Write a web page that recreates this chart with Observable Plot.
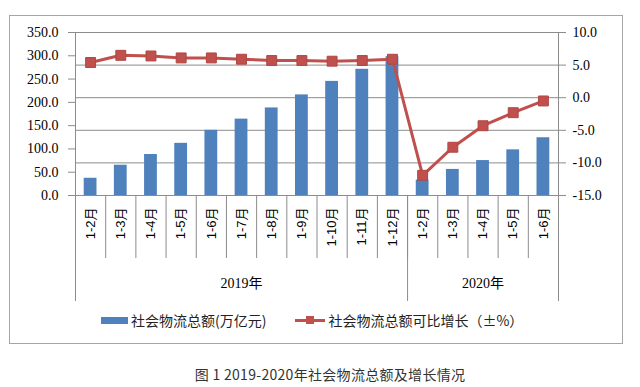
<!DOCTYPE html>
<html>
<head>
<meta charset="utf-8">
<script src="https://cdn.jsdelivr.net/npm/d3@7"></script>
<script src="https://cdn.jsdelivr.net/npm/@observablehq/plot@0.6"></script>
<style>
  html, body { margin: 0; padding: 0; background: #fff; }
  #wrap { position: relative; width: 640px; height: 387px; overflow: hidden; }
  #frame { position: absolute; left: 9px; top: 15px; width: 614px; height: 329px; box-sizing: border-box; border: 1px solid #a6a6a6; }
  #chart svg { position: absolute; left: 0; top: 0; }
  #legend { position: absolute; left: 101px; top: 310px; height: 20px; display: flex; align-items: center;
            font-family: "Noto Sans CJK SC", sans-serif; font-size: 14px; color: #222; white-space: nowrap; }
  .item { display: flex; align-items: center; }
  .sw-bar { width: 27px; height: 7px; background: #4f81bd; margin-right: 3px; }
  .sw-line { position: relative; width: 30px; height: 10px; margin-right: 3px; }
  .sw-line .ln { position: absolute; left: 0; right: 0; top: 4px; height: 3px; background: #c0504d; }
  .sw-line .mk { position: absolute; left: 11px; top: 1px; width: 8px; height: 8px; background: #c0504d; }
  #caption { position: absolute; left: 0; width: 660px; top: 364px; text-align: center; letter-spacing: 0.3px;
             font-family: "Noto Sans CJK SC", sans-serif; font-size: 14px; color: #333; white-space: nowrap; }
</style>
</head>
<body>
<div id="wrap">
  <div id="frame"></div>
  <div id="chart"></div>
  <div id="legend"></div>
  <div id="caption"></div>
</div>
<script>
// ---- data ----
const years = ["2019年", "2020年"];
const months2019 = ["1-2月", "1-3月", "1-4月", "1-5月", "1-6月", "1-7月", "1-8月", "1-9月", "1-10月", "1-11月", "1-12月"];
const months2020 = ["1-2月", "1-3月", "1-4月", "1-5月", "1-6月"];
const total2019 = [37, 65, 88, 112, 140, 164, 188, 216, 245, 271, 298];
const total2020 = [33, 56, 75, 98, 124];
const growth2019 = [5.4, 6.5, 6.4, 6.1, 6.1, 5.9, 5.7, 5.7, 5.6, 5.7, 5.9];
const growth2020 = [-11.9, -7.6, -4.3, -2.3, -0.5];
const leftTicks = [0, 50, 100, 150, 200, 250, 300, 350];
const rightTicks = [-15, -10, -5, 0, 5, 10];
const seriesNames = ["社会物流总额(万亿元)", "社会物流总额可比增长（±%）"];
const captionText = "图 1 2019-2020年社会物流总额及增长情况";

// ---- table ----
const rows = [
  ...months2019.map((m, i) => ({ year: years[0], month: m, total: total2019[i], growth: growth2019[i] })),
  ...months2020.map((m, i) => ({ year: years[1], month: m, total: total2020[i], growth: growth2020[i] }))
].map((d, i) => ({ ...d, idx: i }));

const n = rows.length;
const leftMax = leftTicks[leftTicks.length - 1];
const gMin = rightTicks[0], gMax = rightTicks[rightTicks.length - 1];
const toLeft = g => (g - gMin) / (gMax - gMin) * leftMax;
const fromLeft = v => v / leftMax * (gMax - gMin) + gMin;

const bounds = d3.range(0, n + 1);
const groupBounds = [0, months2019.length, n];
const groupCenters = [months2019.length / 2, months2019.length + months2020.length / 2];

const grey = "#8c8c8c";
const chart = Plot.plot({
  width: 640,
  height: 305,
  marginLeft: 75,
  marginRight: 82,
  marginTop: 32,
  marginBottom: 110,
  style: { fontFamily: "'Liberation Serif', serif", fontSize: "14px", color: "#000", background: "transparent" },
  x: { domain: [0, n], axis: null, label: null },
  y: { domain: [0, leftMax], axis: null, label: null },
  marks: [
    Plot.gridY(rightTicks.map(toLeft), { stroke: grey, strokeOpacity: 1 }),
    Plot.ruleX(groupBounds.filter((d, i) => i !== 1), { stroke: grey }),
    Plot.axisY(leftTicks, { anchor: "left", label: null, tickSize: 7, tickPadding: 10, stroke: grey,
      tickFormat: d => d.toFixed(1), fontFamily: "'Liberation Serif', serif", fontSize: 14 }),
    Plot.axisY(rightTicks.map(toLeft), { anchor: "right", label: null, tickSize: 7, tickPadding: 7, stroke: grey,
      tickFormat: d => fromLeft(d).toFixed(1), fontFamily: "'Liberation Serif', serif", fontSize: 14 }),
    // category separators
    Plot.axisX(bounds, { anchor: "bottom", label: null, tickSize: 63, stroke: grey, tickFormat: () => "" }),
    Plot.axisX(groupBounds, { anchor: "bottom", label: null, tickSize: 106, stroke: grey, tickFormat: () => "" }),
    // category labels
    Plot.axisX(rows.map(d => d.idx + 0.5), { anchor: "bottom", label: null, tickSize: 0, tickPadding: 12, tickRotate: -90,
      tickFormat: d => rows[Math.floor(d)].month, fontFamily: "'Liberation Sans', 'Noto Sans CJK SC', sans-serif", fontSize: 13 }),
    // year labels
    Plot.axisX(groupCenters, { anchor: "bottom", label: null, tickSize: 0, tickPadding: 83,
      tickFormat: (d, i) => years[i], fontFamily: "'Liberation Serif', 'Noto Sans CJK SC', serif", fontSize: 14 }),
    Plot.rectY(rows, { x1: "idx", x2: d => d.idx + 1, y: "total", fill: "#4f81bd", insetLeft: 8.7, insetRight: 8.7 }),
    Plot.ruleY([0], { stroke: grey }),
    Plot.line(rows, { x: d => d.idx + 0.5, y: d => toLeft(d.growth), stroke: "#c0504d", strokeWidth: 3 }),
    Plot.dot(rows, { x: d => d.idx + 0.5, y: d => toLeft(d.growth), symbol: "square", r: 5.6,
      fill: "#c0504d", stroke: "#b04642", strokeWidth: 1 })
  ]
});
document.getElementById("chart").appendChild(chart);

// legend
const legend = document.getElementById("legend");
legend.innerHTML =
  `<div class="item"><div class="sw-bar"></div><span>${seriesNames[0]}</span></div>` +
  `<div class="item" style="margin-left:29px"><div class="sw-line"><div class="ln"></div><div class="mk"></div></div><span>${seriesNames[1]}</span></div>`;
document.getElementById("caption").textContent = captionText;
</script>
</body>
</html>
